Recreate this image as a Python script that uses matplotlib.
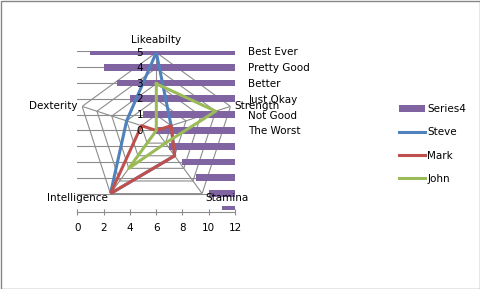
import numpy as np
import matplotlib
matplotlib.use("Agg")
import matplotlib.pyplot as plt
from matplotlib.patches import Rectangle, Patch
from matplotlib.lines import Line2D

# ---- data ----
radar_axes_labels = ['Likeabilty', 'Strength', 'Stamina', 'Intelligence', 'Dexterity']
steve = [5, 1, 2, 5, 2]
mark = [0, 1, 2, 5, 1]
john = [3, 4, 1, 3, 0]
radar_ticks = [0, 1, 2, 3, 4, 5]

bar_labels = ['Best Ever', 'Pretty Good', 'Better', 'Just Okay', 'Not Good', 'The Worst',
              '', '', '', '', '']
series4 = [11, 10, 9, 8, 7, 6, 5, 4, 3, 2, 1]
x_ticks = [0, 2, 4, 6, 8, 10, 12]

C_BAR = '#8064A2'
C_STEVE = '#4F81BD'
C_MARK = '#C0504D'
C_JOHN = '#9BBB59'
GRID = '#8C8C8C'
FS = 7.5

plt.rcParams['font.family'] = ['DejaVu Sans']
W, H = 481, 289
fig = plt.figure(figsize=(W / 100, H / 100), dpi=100)
fig.patch.set_facecolor('white')

def fbox(l, t, r, b):
    return [l / W, (H - b) / H, (r - l) / W, (b - t) / H]

# radar geometry box (center 156.3,130.5 radius 78)
cx, cy, R = 156.3, 130.5, 78.0
rbox = fbox(cx - R, cy - R, cx + R, cy + R)
angles = np.deg2rad(np.arange(len(radar_axes_labels)) * 360.0 / len(radar_axes_labels))
ang_closed = np.append(angles, angles[0])

def setup_polar(ax):
    ax.set_theta_zero_location('N')
    ax.set_theta_direction(-1)
    ax.set_ylim(0, 5)
    ax.grid(False)
    ax.spines['polar'].set_visible(False)
    ax.set_xticks([])
    ax.set_yticks([])
    ax.patch.set_visible(False)

# radar gridlines (below bars)
axg = fig.add_axes(rbox, projection='polar', zorder=1)
setup_polar(axg)
for r in radar_ticks[1:]:
    axg.plot(ang_closed, [r] * len(ang_closed), color=GRID, lw=0.8)
for a in angles:
    axg.plot([a, a], [0, 5], color=GRID, lw=0.8)

# bar axes
axb = fig.add_axes(fbox(77.3, 51.3, 235.0, 209.5), zorder=2)
axb.patch.set_visible(False)
ypos = np.arange(len(series4))[::-1]
for y in ypos:
    axb.axhline(y, color=GRID, lw=0.8, zorder=0)
axb.barh(ypos, -np.array(series4), left=12, height=0.43, color=C_BAR, zorder=2)
axb.set_xlim(0, 12)
axb.set_ylim(0, 10)
axb.set_xticks(x_ticks)
axb.set_xticklabels([str(t) for t in x_ticks])
axb.tick_params(axis='x', direction='inout', length=5, color=GRID, width=0.8, pad=5,
                labelsize=FS)
axb.yaxis.tick_right()
axb.set_yticks(ypos)
axb.set_yticklabels(bar_labels)
axb.tick_params(axis='y', length=0, pad=9.5, labelsize=FS)
for s in ['left', 'right', 'top']:
    axb.spines[s].set_visible(False)
axb.spines['bottom'].set_color(GRID)
axb.spines['bottom'].set_linewidth(0.8)
axb.spines['bottom'].set_position(('outward', 2))

# radar series on top
axr = fig.add_axes(rbox, projection='polar', zorder=3)
setup_polar(axr)
for vals, col, name in [(steve, C_STEVE, 'Steve'), (mark, C_MARK, 'Mark'), (john, C_JOHN, 'John')]:
    axr.plot(ang_closed, np.append(vals, vals[0]), color=col, lw=2.2, label=name)
for t in radar_ticks:
    axr.annotate(str(t), xy=(0, t), xytext=(-9.5, 0), textcoords='offset points',
                 ha='right', va='center', fontsize=FS)
offs = [((0, 9), 'center', 'center'), ((3, 0), 'left', 'center'), ((2, -3), 'left', 'center'),
        ((-2, -3), 'right', 'center'), ((-3, 0), 'right', 'center')]
for lab, a, (off, ha, va) in zip(radar_axes_labels, angles, offs):
    axr.annotate(lab, xy=(a, 5), xytext=off, textcoords='offset points',
                 ha=ha, va=va, fontsize=FS, annotation_clip=False)

handles = [Patch(facecolor=C_BAR, edgecolor='none'),
           Line2D([], [], color=C_STEVE, lw=2.2),
           Line2D([], [], color=C_MARK, lw=2.2),
           Line2D([], [], color=C_JOHN, lw=2.2)]
fig.legend(handles, ['Series4', 'Steve', 'Mark', 'John'], loc='center left',
           bbox_to_anchor=(399 / W, (H - 144) / H), frameon=False, fontsize=FS,
           handlelength=2.5, handletextpad=0.2, labelspacing=1.25, borderpad=0,
           borderaxespad=0)

fig.patches.append(Rectangle((0.5 / W, 0.5 / H), 1 - 1 / W, 1 - 1 / H, transform=fig.transFigure,
                             fill=False, edgecolor='#868686', lw=1))
fig.savefig('out.png', dpi=100)
